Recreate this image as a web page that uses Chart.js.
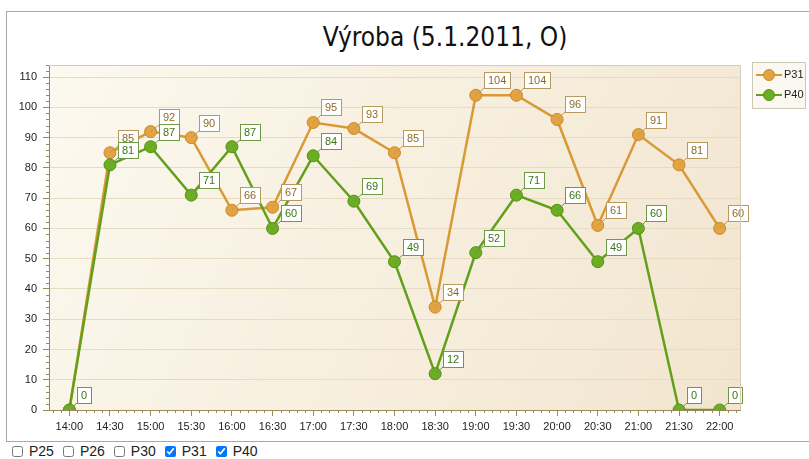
<!DOCTYPE html>
<html>
<head>
<meta charset="utf-8">
<script src="https://cdn.jsdelivr.net/npm/chart.js@4/dist/chart.umd.min.js"></script>
<style>
  html, body { margin: 0; padding: 0; background: #ffffff; }
  body { width: 809px; height: 459px; position: relative; overflow: hidden; font-family: "Liberation Sans", Arial, sans-serif; }
  #frame { position: absolute; left: 6px; top: 11px; width: 820px; height: 429px; border: 1px solid #a8a8a8; background: #fff; }
  #title { position: absolute; left: 0; top: 21px; width: 890px; text-align: center; font-family: "DejaVu Sans Condensed", "DejaVu Sans", sans-serif; font-size: 26px; color: #111; line-height: 32px; }
  #wrap { position: absolute; left: 7px; top: 12px; width: 802px; height: 429px; }
  #boxes { position: absolute; left: 12px; top: 443px; font-size: 14px; color: #222; display: flex; }
  #boxes label { display: inline-flex; align-items: center; margin-right: 9px; }
  #boxes input { width: 11px; height: 11px; margin: 0 6px 0 0; }
</style>
</head>
<body>
<div id="frame"></div>
<div id="title">Výroba (5.1.2011, O)</div>
<div id="wrap"><canvas id="c"></canvas></div>
<div id="boxes">
  <label><input type="checkbox">P25</label>
  <label><input type="checkbox">P26</label>
  <label><input type="checkbox">P30</label>
  <label><input type="checkbox" checked>P31</label>
  <label><input type="checkbox" checked>P40</label>
</div>
<script>
const categories = ['14:00','14:30','15:00','15:30','16:00','16:30','17:00','17:30','18:00','18:30','19:00','19:30','20:00','20:30','21:00','21:30','22:00'];
const p31 = [0, 85, 92, 90, 66, 67, 95, 93, 85, 34, 104, 104, 96, 61, 91, 81, 60];
const p40 = [0, 81, 87, 71, 87, 60, 84, 69, 49, 12, 52, 71, 66, 49, 60, 0, 0];
const yTicks = [0, 10, 20, 30, 40, 50, 60, 70, 80, 90, 100, 110];
const seriesNames = ['P31', 'P40'];

const FONT = '"Liberation Sans", Arial, sans-serif';
const AXIS = '#9a8a5a';
const styles = [
  { line: '#D99A35', fill: '#E3A341', edge: '#C88A2A', text: '#8E6A28', box: '#B89A60' },
  { line: '#62A01C', fill: '#6CAE22', edge: '#559018', text: '#3E7418', box: '#6E9A48' }
];

const bgPlugin = {
  id: 'bg',
  beforeDraw(chart) {
    const a = chart.chartArea, ctx = chart.ctx;
    const g = ctx.createLinearGradient(a.left, a.top, a.right, a.bottom);
    g.addColorStop(0, '#FCF9EF');
    g.addColorStop(1, '#F2E5CF');
    ctx.save();
    ctx.fillStyle = g;
    ctx.fillRect(a.left, a.top, a.right - a.left, a.bottom - a.top);
    ctx.restore();
  },
  afterDraw(chart) {
    const a = chart.chartArea, ctx = chart.ctx;
    const xs = chart.scales.x, ys = chart.scales.y;
    ctx.save();
    ctx.strokeStyle = '#d6ccb4';
    ctx.lineWidth = 1;
    ctx.beginPath();
    ctx.moveTo(a.left, a.top + 0.5); ctx.lineTo(a.right + 0.5, a.top + 0.5); ctx.lineTo(a.right + 0.5, a.bottom);
    ctx.stroke();
    ctx.strokeStyle = AXIS;
    ctx.beginPath();
    for (let v = 0; v <= ys.max; v += 2) {
      if (v % 10 === 0) continue;
      const y = Math.round(ys.getPixelForValue(v)) + 0.5;
      ctx.moveTo(a.left - 3, y); ctx.lineTo(a.left, y);
    }
    const step = (xs.getPixelForValue(1) - xs.getPixelForValue(0)) / 5;
    const x0 = xs.getPixelForValue(0);
    for (let k = -3; k <= 16 * 5 + 3; k++) {
      if (k % 5 === 0 && k >= 0 && k <= 80) continue;
      const x = Math.round(x0 + k * step) + 0.5;
      if (x < a.left || x > a.right) continue;
      ctx.moveTo(x, a.bottom); ctx.lineTo(x, a.bottom + 3);
    }
    ctx.stroke();
    ctx.restore();

    const lx = 745, ly = 50, lw = 53, lh = 46;
    ctx.save();
    ctx.fillStyle = '#FBF8F1';
    ctx.fillRect(lx, ly, lw, lh);
    ctx.strokeStyle = '#cfc8b8';
    ctx.strokeRect(lx + 0.5, ly + 0.5, lw, lh);
    chart.data.datasets.forEach((ds, i) => {
      const s = styles[i];
      const cy = ly + 13 + i * 20;
      ctx.strokeStyle = s.line; ctx.lineWidth = 2;
      ctx.beginPath(); ctx.moveTo(lx + 4, cy); ctx.lineTo(lx + 30, cy); ctx.stroke();
      ctx.fillStyle = s.fill; ctx.strokeStyle = s.edge; ctx.lineWidth = 1;
      ctx.beginPath(); ctx.arc(lx + 17, cy, 5.5, 0, Math.PI * 2); ctx.fill(); ctx.stroke();
      ctx.fillStyle = '#222'; ctx.font = '11px ' + FONT; ctx.textBaseline = 'middle';
      ctx.fillText(ds.label, lx + 32, cy);
    });
    ctx.restore();
  },
  afterDatasetsDraw(chart) {
    const ctx = chart.ctx;
    ctx.save();
    ctx.font = '11px ' + FONT;
    ctx.textBaseline = 'middle';
    [0, 1].forEach(i => {
      const s = styles[i];
      const meta = chart.getDatasetMeta(i);
      meta.data.forEach((pt, j) => {
        const txt = String(chart.data.datasets[i].data[j]);
        const w = Math.ceil(ctx.measureText(txt).width) + 7;
        const h = 16;
        const bx = Math.round(pt.x + 8), by = Math.round(pt.y - 7 - h);
        ctx.strokeStyle = s.box; ctx.lineWidth = 1;
        ctx.beginPath(); ctx.moveTo(pt.x, pt.y); ctx.lineTo(bx, by + h); ctx.stroke();
        ctx.fillStyle = '#ffffff';
        ctx.fillRect(bx, by, w, h);
        ctx.strokeRect(bx + 0.5, by + 0.5, w, h);
        ctx.fillStyle = s.text;
        ctx.fillText(txt, bx + 4, by + h / 2 + 1);
      });
    });
    ctx.restore();
  }
};

new Chart(document.getElementById('c'), {
  type: 'line',
  data: {
    labels: categories,
    datasets: [
      { label: seriesNames[0], data: p31, borderColor: styles[0].line, backgroundColor: styles[0].fill,
        pointBackgroundColor: styles[0].fill, pointBorderColor: styles[0].edge, pointBorderWidth: 1,
        pointRadius: 6, borderWidth: 2.5, tension: 0, order: 2 },
      { label: seriesNames[1], data: p40, borderColor: styles[1].line, backgroundColor: styles[1].fill,
        pointBackgroundColor: styles[1].fill, pointBorderColor: styles[1].edge, pointBorderWidth: 1,
        pointRadius: 6, borderWidth: 2.5, tension: 0, order: 1 }
    ]
  },
  options: {
    responsive: true,
    maintainAspectRatio: false,
    animation: false,
    layout: { padding: { top: 53, right: 69, left: 0, bottom: 0 } },
    plugins: { legend: { display: false }, title: { display: false }, tooltip: { enabled: false } },
    scales: {
      x: {
        offset: true,
        grid: { offset: false, drawOnChartArea: false, drawTicks: true, tickLength: 6, tickColor: AXIS },
        border: { color: AXIS, width: 1 },
        ticks: { color: '#222', font: { family: FONT, size: 11 }, padding: 4, maxRotation: 0, autoSkip: false },
        afterFit(s) { s.height = 31; }
      },
      y: {
        min: 0, max: 114,
        afterBuildTicks(s) { s.ticks = yTicks.map(v => ({ value: v })); },
        grid: { color: '#E6DCC4', tickLength: 6, tickColor: AXIS },
        border: { color: AXIS, width: 1 },
        ticks: { color: '#222', font: { family: FONT, size: 11 }, padding: 6 },
        afterFit(s) { s.width = 42; }
      }
    }
  },
  plugins: [bgPlugin]
});
</script>
</body>
</html>
